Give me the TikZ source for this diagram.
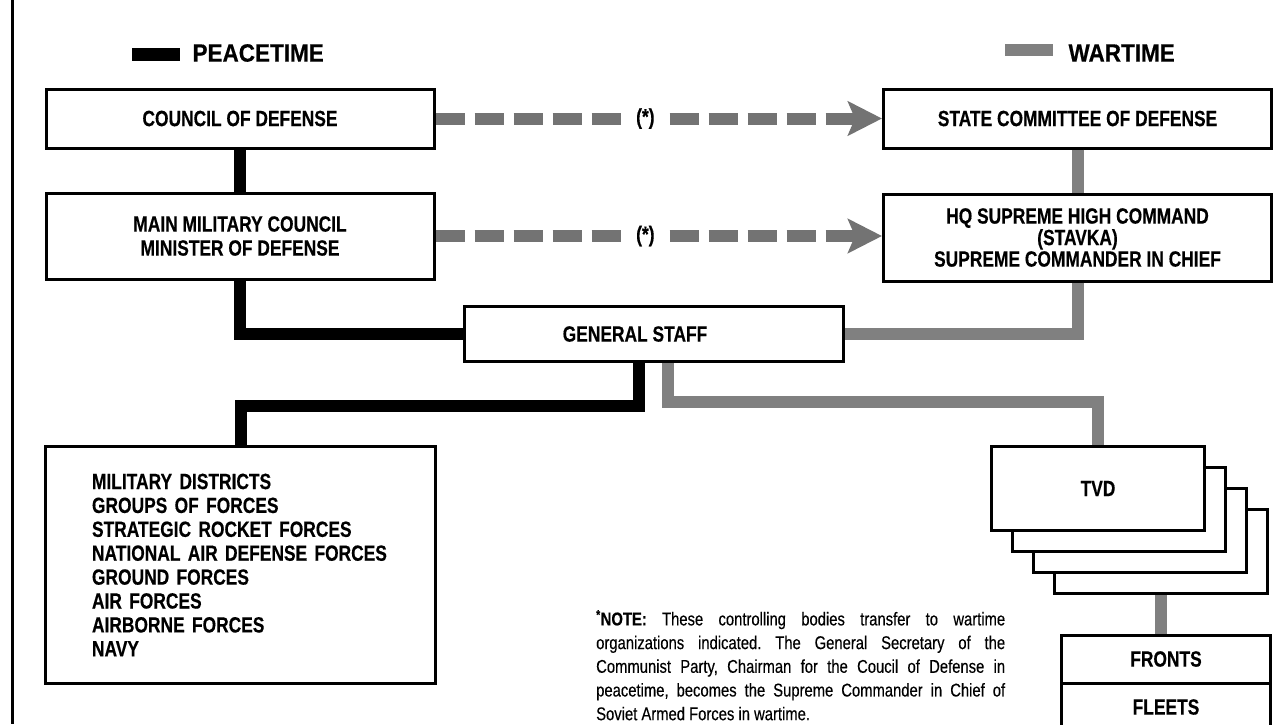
\documentclass[tikz,border=0pt]{standalone}
\usepackage{fontspec}
\setmainfont{Liberation Sans}[FakeStretch=0.79,BoldFeatures={FakeBold=0.4}]
\newfontfamily\legendfont{Liberation Sans}[FakeStretch=0.9,BoldFeatures={FakeBold=0.4}]
\newfontfamily\notefont{Liberation Sans}[FakeStretch=0.80,FakeBold=0.3]
\usetikzlibrary{arrows.meta}

\begin{document}
\begin{tikzpicture}[x=1pt,y=-1pt,
  box/.style={draw,line width=3pt,fill=white,inner sep=0pt,
    font=\fontsize{22}{24}\selectfont\bfseries},
  peace/.style={line width=12pt,black},
  war/.style={line width=12pt,black!50},
  warflow/.style={line width=12pt,black!55,dash pattern=on 29pt off 10pt,
    -{Stealth[length=34pt,width=34pt,inset=7pt]}},
  star/.style={pos=0.47,fill=white,inner xsep=9pt,text=black,
    font=\fontsize{22}{24}\selectfont\bfseries},
  legend/.style={anchor=west,font=\legendfont\fontsize{25}{28}\selectfont\bfseries}]

  \useasboundingbox (0,0) rectangle (1280,724);
  \clip (0,0) rectangle (1280,724);

  \draw[line width=3.5pt] (12.5,0) -- (12.5,724);

  % legend
  \fill (132,48) rectangle (180,61);
  \node[legend] (peacetime) at (189,53) {PEACETIME};
  \fill[black!50] (1005,44) rectangle (1053,56);
  \node[legend] (wartime) at (1065,53) {WARTIME};

  \node[box,minimum width=388pt,minimum height=59pt] (council) at (240,118.5) {COUNCIL OF DEFENSE};
  \node[box,minimum width=388pt,minimum height=86pt,align=center] (mmc) at (240,236) {MAIN MILITARY COUNCIL\\MINISTER OF DEFENSE};

  \node[box,minimum width=388pt,minimum height=59pt] (state) at (1077.5,118.5) {STATE COMMITTEE OF DEFENSE};
  \node[box,minimum width=388pt,minimum height=87pt,align=center,
    font=\fontsize{22}{21.5}\selectfont\bfseries] (hq) at (1077.5,237.5)
    {HQ SUPREME HIGH COMMAND\\(STAVKA)\\SUPREME COMMANDER IN CHIEF};

  \node[box,minimum width=379pt,minimum height=55pt] (gs) at (654,334) {};
  \node[font=\fontsize{22}{24}\selectfont\bfseries] (gslabel) at (635,334) {GENERAL STAFF};

  \node[box,minimum width=390pt,minimum height=237pt,text width=297pt,align=left,
    font=\fontsize{22}{23.9}\selectfont\bfseries] (forces) at (240.5,565)
    {MILITARY DISTRICTS\\GROUPS OF FORCES\\STRATEGIC ROCKET FORCES\\NATIONAL AIR DEFENSE FORCES\\GROUND FORCES\\AIR FORCES\\AIRBORNE FORCES\\NAVY};

  \node[box,minimum width=213pt,minimum height=84pt] (tvd4) at (1161,551.5) {};
  \node[box,minimum width=213pt,minimum height=84pt] (tvd3) at (1140,530.5) {};
  \node[box,minimum width=213pt,minimum height=84pt] (tvd2) at (1119,509.5) {};
  \node[box,minimum width=213pt,minimum height=84pt] (tvd1) at (1098,488.5) {TVD};

  \node[box,minimum width=209pt,minimum height=48pt] (fronts) at (1166,659) {FRONTS};
  \node[box,minimum width=209pt,minimum height=48pt] (fleets) at (1166,707) {FLEETS};

  % peacetime chain
  \draw[peace] (council) -- (mmc);
  \draw[peace] (mmc.south) |- (gs.west);
  \coordinate (pdrop) at (639,406);
  \draw[peace] (gs.south -| pdrop) -- (pdrop) -| (forces.north);

  % wartime chain
  \draw[war] (state) -- (hq);
  \draw[war] (hq.south) |- (gs.east);
  \coordinate (wdrop) at (668,402);
  \draw[war] (gs.south -| wdrop) -- (wdrop) -| (tvd1.north);
  \draw[war] (tvd4.south) -- (tvd4.south |- fronts.north);

  \draw[warflow] (council.east) -- node[star] {(*)} (state.west);
  \draw[warflow] (mmc.east) -- node[star] {(*)} (mmc.east -| hq.west);

  \node[anchor=north west,text width=409pt,align=justify,inner sep=0pt,
    font=\notefont\fontsize{18.5}{23.7}\selectfont] (note) at (596,610)
    {\frenchspacing\textsuperscript{\textbf{*}}\textbf{NOTE:} These controlling bodies transfer to wartime\linebreak
     organizations indicated. The General Secretary of the\linebreak
     Communist Party, Chairman for the Coucil of Defense in\linebreak
     peacetime, becomes the Supreme Commander in Chief of\linebreak
     Soviet Armed Forces in wartime.};
\end{tikzpicture}
\end{document}
